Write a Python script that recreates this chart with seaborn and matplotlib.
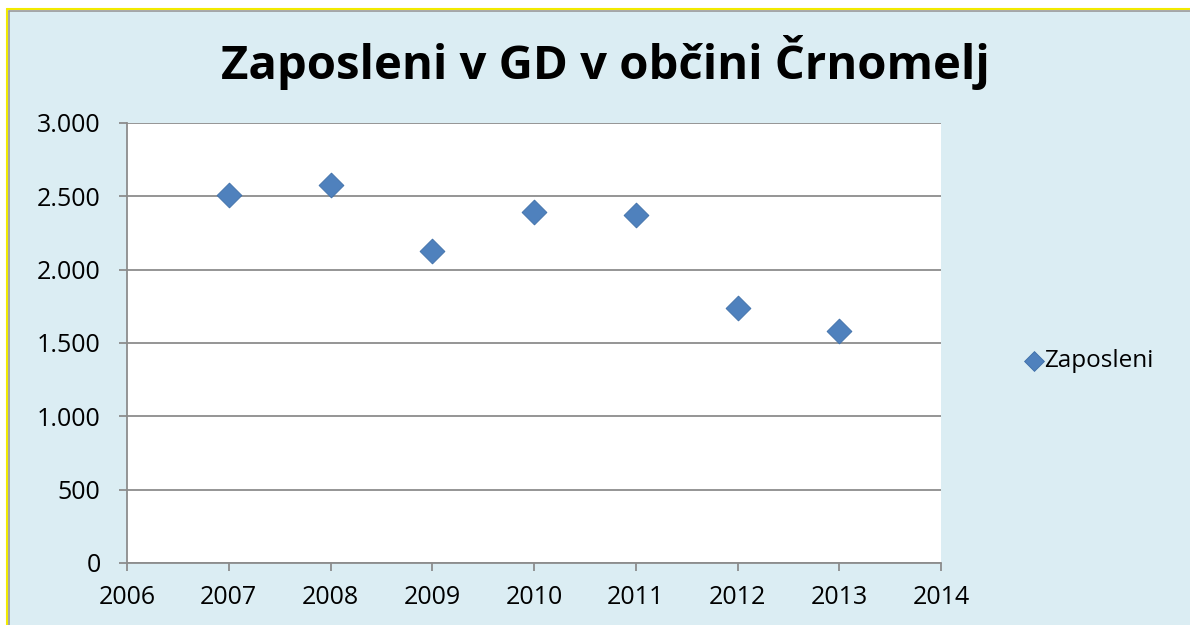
import matplotlib
matplotlib.use("Agg")
import matplotlib.pyplot as plt
import seaborn as sns
import pandas as pd
from matplotlib.patches import Rectangle
from matplotlib.ticker import FuncFormatter, MultipleLocator

# data
years = [2007, 2008, 2009, 2010, 2011, 2012, 2013]
zaposleni = [2510, 2580, 2130, 2390, 2370, 1740, 1585]

df = pd.DataFrame({"leto": years, "Zaposleni": zaposleni})

sns.set_theme(style="white")
plt.rcParams["font.family"] = ["Open Sans", "DejaVu Sans"]

bg = "#DBEDF3"
fig = plt.figure(figsize=(11.9, 6.25), dpi=100, facecolor="white")

# chart area background + borders (the reference is a cropped Excel chart)
fig.patches.append(Rectangle((8 / 1190, 0), 1, 1 - 11 / 625, transform=fig.transFigure,
                             facecolor=bg, edgecolor="none", zorder=-5))
fig.add_artist(plt.Line2D([6.5 / 1190, 6.5 / 1190], [0, 1 - 9 / 625], transform=fig.transFigure,
                          color="#F2EA00", lw=1.5))
fig.add_artist(plt.Line2D([6.5 / 1190, 1], [1 - 9 / 625, 1 - 9 / 625], transform=fig.transFigure,
                          color="#F2EA00", lw=1.5))
fig.add_artist(plt.Line2D([9 / 1190, 9 / 1190], [0, 1 - 11 / 625], transform=fig.transFigure,
                          color="#9A9A9A", lw=1.2))
fig.add_artist(plt.Line2D([9 / 1190, 1], [1 - 11 / 625, 1 - 11 / 625], transform=fig.transFigure,
                          color="#9A9A9A", lw=1.2))

ax = fig.add_axes([127 / 1190, 1 - 563 / 625, (941 - 127) / 1190, (563 - 123) / 625])
ax.set_zorder(5)
ax.set_facecolor("white")

sns.scatterplot(data=df, x="leto", y="Zaposleni", marker="D", s=160, color="#4F81BD",
                edgecolor="#3F6FA8", linewidth=0.6, label="Zaposleni", ax=ax, zorder=3)

ax.set_xlim(2006, 2014)
ax.set_ylim(0, 3000)
ax.xaxis.set_major_locator(MultipleLocator(1))
ax.yaxis.set_major_locator(MultipleLocator(500))
ax.yaxis.set_major_formatter(FuncFormatter(lambda v, p: f"{int(v):,}".replace(",", ".")))
ax.xaxis.set_major_formatter(FuncFormatter(lambda v, p: f"{int(v)}"))

ax.grid(axis="y", color="#8C8C8C", lw=1.3)
ax.grid(axis="x", visible=False)
ax.set_axisbelow(True)
for side in ["top", "right"]:
    ax.spines[side].set_visible(False)
for side in ["left", "bottom"]:
    ax.spines[side].set_color("#8C8C8C")
    ax.spines[side].set_linewidth(1.3)

ax.tick_params(axis="both", which="major", direction="out", length=6, width=1.3,
               color="#8C8C8C", labelsize=18, labelcolor="black", bottom=True, left=True)
ax.tick_params(axis="x", pad=10)
ax.tick_params(axis="y", pad=13)
ax.set_xlabel("")
ax.set_ylabel("")

fig.text(605 / 1190, 1 - 62 / 625, "Zaposleni v GD v občini Črnomelj", ha="center", va="center",
         fontsize=34, fontweight="bold", color="black")

leg = ax.legend(loc="center left", bbox_to_anchor=(988 / 1190, 1 - 361 / 625),
                bbox_transform=fig.transFigure, frameon=False, fontsize=17.5,
                handletextpad=-0.6, markerscale=0.8)
for t in leg.get_texts():
    t.set_color("black")

fig.savefig("out.png", dpi=100, facecolor="white")
